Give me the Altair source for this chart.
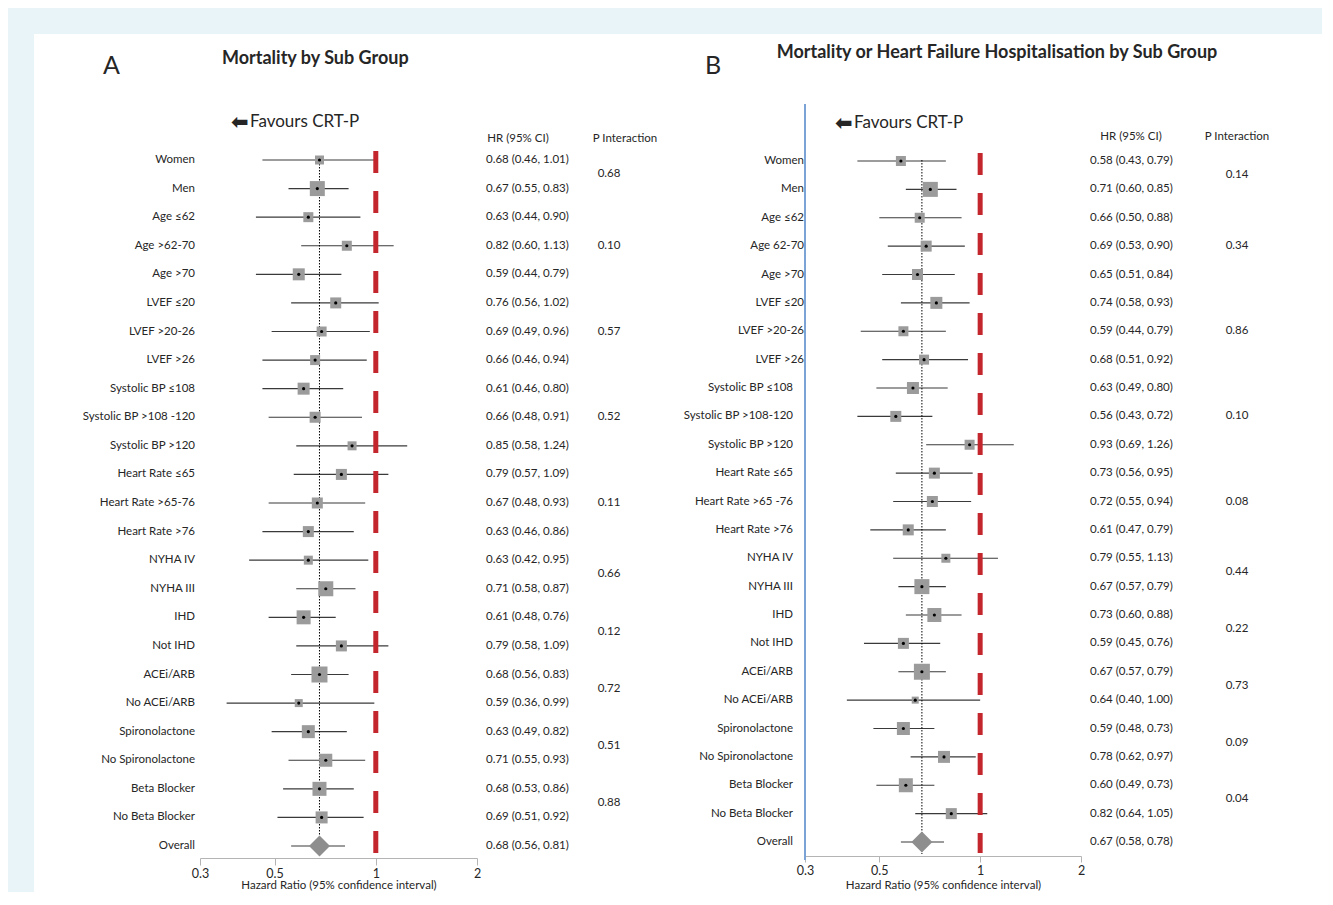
import altair as alt
import pandas as pd

FONT = "Lato"

# ---------------- Panel A data ----------------
labels_a = ["Women", "Men", "Age ≤62", "Age >62-70", "Age >70", "LVEF ≤20", "LVEF >20-26",
            "LVEF >26", "Systolic BP ≤108", "Systolic BP >108 -120", "Systolic BP >120",
            "Heart Rate ≤65", "Heart Rate >65-76", "Heart Rate >76", "NYHA IV", "NYHA III",
            "IHD", "Not IHD", "ACEi/ARB", "No ACEi/ARB", "Spironolactone", "No Spironolactone",
            "Beta Blocker", "No Beta Blocker", "Overall"]
hr_a = [0.68, 0.67, 0.63, 0.82, 0.59, 0.76, 0.69, 0.66, 0.61, 0.66, 0.85, 0.79, 0.67, 0.63,
        0.63, 0.71, 0.61, 0.79, 0.68, 0.59, 0.63, 0.71, 0.68, 0.69, 0.68]
lo_a = [0.46, 0.55, 0.44, 0.60, 0.44, 0.56, 0.49, 0.46, 0.46, 0.48, 0.58, 0.57, 0.48, 0.46,
        0.42, 0.58, 0.48, 0.58, 0.56, 0.36, 0.49, 0.55, 0.53, 0.51, 0.56]
hi_a = [1.01, 0.83, 0.90, 1.13, 0.79, 1.02, 0.96, 0.94, 0.80, 0.91, 1.24, 1.09, 0.93, 0.86,
        0.95, 0.87, 0.76, 1.09, 0.83, 0.99, 0.82, 0.93, 0.86, 0.92, 0.81]
weight_a = [9, 15, 10, 10, 12, 11, 10, 10, 12, 11, 9, 11, 11, 11, 9, 15, 14, 11, 16, 8, 13, 13, 14, 12]
p_a = ["0.68", "0.10", "0.57", "0.52", "0.11", "0.66", "0.12", "0.72", "0.51", "0.88"]
pgroups_a = [(0, 1), (2, 4), (5, 7), (8, 10), (11, 13), (14, 15), (16, 17), (18, 19), (20, 21), (22, 23)]

# ---------------- Panel B data ----------------
labels_b = ["Women", "Men", "Age ≤62", "Age 62-70", "Age >70", "LVEF ≤20", "LVEF >20-26",
            "LVEF >26", "Systolic BP ≤108", "Systolic BP >108-120", "Systolic BP >120",
            "Heart Rate ≤65", "Heart Rate >65 -76", "Heart Rate >76", "NYHA IV", "NYHA III",
            "IHD", "Not IHD", "ACEi/ARB", "No ACEi/ARB", "Spironolactone", "No Spironolactone",
            "Beta Blocker", "No Beta Blocker", "Overall"]
hr_b = [0.58, 0.71, 0.66, 0.69, 0.65, 0.74, 0.59, 0.68, 0.63, 0.56, 0.93, 0.73, 0.72, 0.61,
        0.79, 0.67, 0.73, 0.59, 0.67, 0.64, 0.59, 0.78, 0.60, 0.82, 0.67]
lo_b = [0.43, 0.60, 0.50, 0.53, 0.51, 0.58, 0.44, 0.51, 0.49, 0.43, 0.69, 0.56, 0.55, 0.47,
        0.55, 0.57, 0.60, 0.45, 0.57, 0.40, 0.48, 0.62, 0.49, 0.64, 0.58]
hi_b = [0.79, 0.85, 0.88, 0.90, 0.84, 0.93, 0.79, 0.92, 0.80, 0.72, 1.26, 0.95, 0.94, 0.79,
        1.13, 0.79, 0.88, 0.76, 0.79, 1.00, 0.73, 0.97, 0.73, 1.05, 0.78]
weight_b = [10, 15, 10, 11, 11, 12, 10, 10, 12, 11, 10, 11, 11, 11, 9, 15, 14, 11, 16, 7, 13, 12, 14, 11]
p_b = ["0.14", "0.34", "0.86", "0.10", "0.08", "0.44", "0.22", "0.73", "0.09", "0.04"]
pgroups_b = pgroups_a

axis_ticks = [0.3, 0.5, 1, 2]
x_domain = [0.3, 2]
null_hr = [1.0]

TXT = "#262626"
FS = 11.5


def text_layer(texts, x, y, size, weight="normal", align="left", font=FONT):
    return alt.Chart(pd.DataFrame({"t": texts})).mark_text(
        align=align, baseline="middle", fontSize=size, fontWeight=weight, font=font, color=TXT
    ).encode(text="t:N", x=alt.value(x), y=alt.value(y))


def panel(cfg, labels, hr, lo, hi, weight, pvals, pgroups):
    n = len(labels)
    df = pd.DataFrame({
        "row": list(range(n)), "label": labels, "hr": hr, "lo": lo, "hi": hi,
        "txt": [f"{h:.2f} ({l:.2f}, {u:.2f})" for h, l, u in zip(hr, lo, hi)],
        "area": [w * w for w in weight] + [0],
        "overall": [False] * (n - 1) + [True],
    })
    pdf = pd.DataFrame({"p": pvals, "prow": [(a + b) / 2 for a, b in pgroups]})

    xs = alt.Scale(type="log", domain=x_domain, range=cfg["xrange"], nice=False)
    ys = alt.Scale(domain=[0, n - 1], range=cfg["yrange"], nice=False, zero=False)
    xax = alt.Axis(values=axis_ticks, format="~g", title="Hazard Ratio (95% confidence interval)",
                   offset=cfg["axis_offset"], tickSize=cfg["tick"], labelPadding=2,
                   titlePadding=cfg["title_pad"], grid=False, domainColor="#b4b4b4",
                   tickColor="#b4b4b4", labelColor=TXT, titleColor=TXT, labelFontSize=12.5,
                   titleFontSize=11.5, titleFontWeight="normal", labelFont=FONT, titleFont=FONT,
                   labelFlush=False)

    def X(f):
        return alt.X(f, type="quantitative", scale=xs, axis=xax)

    def Y(f):
        return alt.Y(f, type="quantitative", scale=ys, axis=None)

    base = alt.Chart(df)
    subs = base.transform_filter("!datum.overall")
    ovr = base.transform_filter("datum.overall")

    ci = base.mark_rule(color="#3a3a3a", strokeWidth=1.2).encode(x=X("lo"), x2="hi", y=Y("row"))
    dotted = ovr.mark_rule(color="black", strokeWidth=1, strokeDash=[1.5, 1.5]).encode(
        x=X("hr"), y=alt.value(cfg["dot_top"]), y2=alt.value(cfg["dot_bot"]))
    squares = subs.mark_point(shape="square", filled=True, color="#9b9b9b", opacity=1).encode(
        x=X("hr"), y=Y("row"), size=alt.Size("area:Q", scale=None))
    dots = subs.mark_point(shape="circle", filled=True, color="black", opacity=1, size=10).encode(
        x=X("hr"), y=Y("row"))
    diamond = ovr.mark_point(shape="diamond", filled=True, color="#8e8e8e", opacity=1, size=441).encode(
        x=X("hr"), y=Y("row"))
    red = alt.Chart(pd.DataFrame({"ref": null_hr})).mark_rule(
        color="#c4262e", strokeWidth=5, strokeDash=[22, 18]).encode(
        x=X("ref"), y=alt.value(cfg["red_top"]), y2=alt.value(cfg["red_bot"]))

    lab_layers = []
    for (r0, r1, xr) in cfg["label_x"]:
        lab_layers.append(base.transform_filter(f"datum.row >= {r0} && datum.row <= {r1}").mark_text(
            align="right", baseline="middle", fontSize=FS, font=FONT, color=TXT).encode(
            text="label:N", x=alt.value(xr), y=Y("row")))
    hrtxt = base.mark_text(align="left", baseline="middle", fontSize=FS, font=FONT, color=TXT).encode(
        text="txt:N", x=alt.value(cfg["hr_x"]), y=Y("row"))
    ptxt = alt.Chart(pdf).mark_text(align="center", baseline="middle", fontSize=FS, font=FONT,
                                    color=TXT).encode(text="p:N", x=alt.value(cfg["p_x"]), y=Y("prow"))

    layers = []
    if cfg.get("blue"):
        layers.append(alt.Chart(pd.DataFrame({"ref": [x_domain[0]]})).mark_rule(
            color="#7ba3d6", strokeWidth=2).encode(
            x=X("ref"), y=alt.value(cfg["blue_top"]), y2=alt.value(cfg["blue_bot"])))
    layers += [ci, dotted, squares, dots, diamond, red] + lab_layers + [hrtxt, ptxt]
    layers += [
        text_layer([cfg["letter"]], cfg["letter_x"], cfg["letter_y"], 25),
        text_layer([cfg["title"]], cfg["title_x"], cfg["title_y"], 18, weight="bold",
                   align=cfg["title_align"]),
        text_layer(["⬅"], cfg["fav_x"] - 1, cfg["fav_y"] + 1, 21, weight="bold", font="DejaVu Sans"),
        text_layer(["Favours CRT-P"], cfg["fav_x"] + 18, cfg["fav_y"], 17),
        text_layer(["HR (95% CI)"], cfg["hdr_hr_x"], cfg["hdr_y"], 11.5, align="center"),
        text_layer(["P Interaction"], cfg["hdr_p_x"], cfg["hdr_y"], 11.5, align="center"),
    ]
    return alt.layer(*layers).properties(width=644, height=858)


cfg_a = dict(xrange=[166, 443], yrange=[126, 812], axis_offset=-34, tick=7, title_pad=0,
             dot_top=124, dot_bot=822, red_top=117, red_bot=819,
             label_x=[(0, 24, 161)], hr_x=452, p_x=575,
             letter="A", letter_x=69, letter_y=32, title="Mortality by Sub Group",
             title_x=188, title_y=25, title_align="left", fav_x=198, fav_y=88,
             hdr_hr_x=484, hdr_p_x=591, hdr_y=105)
cfg_b = dict(xrange=[127, 403], yrange=[127, 808], axis_offset=-36, tick=6, title_pad=3,
             dot_top=126, dot_bot=820, red_top=119, red_bot=819,
             label_x=[(0, 7, 126), (8, 24, 115)], hr_x=412, p_x=559,
             letter="B", letter_x=27, letter_y=32,
             title="Mortality or Heart Failure Hospitalisation by Sub Group",
             title_x=319, title_y=19, title_align="center", fav_x=158, fav_y=89,
             hdr_hr_x=453, hdr_p_x=559, hdr_y=103,
             blue=True, blue_top=70, blue_bot=826)

pa = panel(cfg_a, labels_a, hr_a, lo_a, hi_a, weight_a, p_a, pgroups_a)
pb = panel(cfg_b, labels_b, hr_b, lo_b, hi_b, weight_b, p_b, pgroups_b)

chart = alt.hconcat(pa, pb, spacing=0).properties(
    padding={"left": 26, "top": 26, "right": 0, "bottom": 0}
).configure(background="#e8f4f7").configure_view(fill="white", strokeWidth=0)

chart.save("out.html", embed_options={"renderer": "svg", "actions": False})
